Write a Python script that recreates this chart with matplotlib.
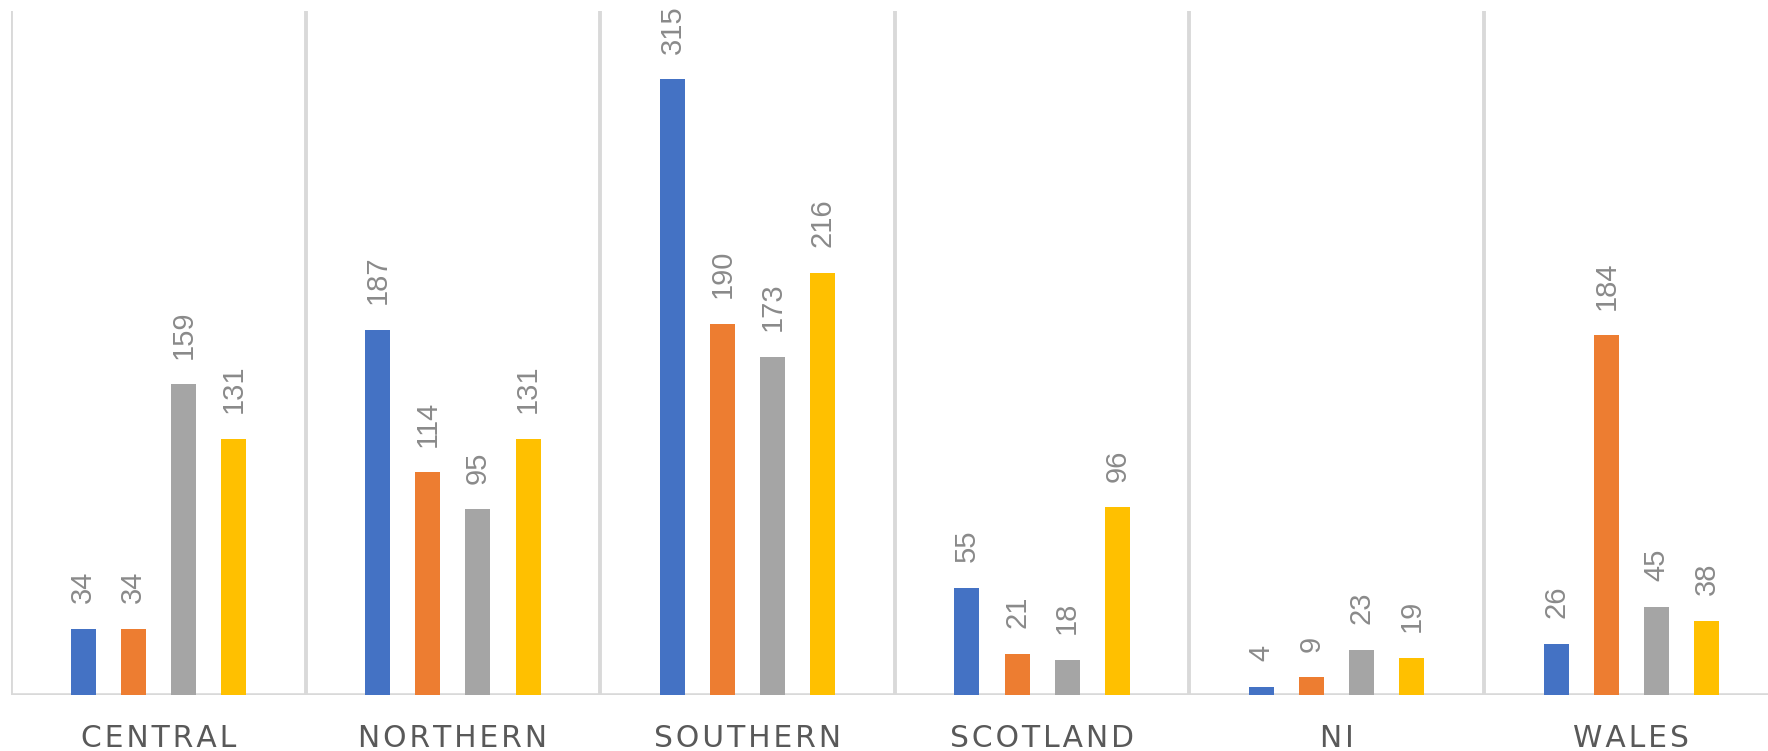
import matplotlib
matplotlib.use("Agg")
import matplotlib.pyplot as plt
import numpy as np

categories = ["CENTRAL", "NORTHERN", "SOUTHERN", "SCOTLAND", "NI", "WALES"]
series1 = [34, 187, 315, 55, 4, 26]
series2 = [34, 114, 190, 21, 9, 184]
series3 = [159, 95, 173, 18, 23, 45]
series4 = [131, 131, 216, 96, 19, 38]
series = [series1, series2, series3, series4]
colors = ["#4472C4", "#ED7D31", "#A5A5A5", "#FFC000"]

fig = plt.figure(figsize=(17.68, 7.51), dpi=100)
ax = fig.add_axes([11 / 1768, 56 / 751, 1767.6 / 1768, 684 / 751])

x = np.arange(len(categories))
bw = 0.085
step = 0.17
for i, (vals, c) in enumerate(zip(series, colors)):
    pos = x + (i - 1.5) * step
    ax.bar(pos, vals, width=bw, color=c, zorder=3)
    for p, v in zip(pos, vals):
        ax.annotate(str(v), xy=(p, v), xytext=(0, 18.5), textcoords="offset points",
                    rotation=90, ha="center", va="bottom", fontsize=21,
                    color="#8a8a8a", family=["Liberation Sans", "DejaVu Sans"])

ax.set_xlim(-0.5, len(categories) - 0.5)
ax.set_ylim(0, 350)
ax.vlines(np.arange(len(categories) + 1) - 0.5, 0, 350, color="#D9D9D9", lw=2.8, zorder=1)
ax.axhline(0, color="#D9D9D9", lw=2.6, zorder=2)

for s in ax.spines.values():
    s.set_visible(False)
ax.set_yticks([])
ax.set_xticks(x)
ax.set_xticklabels(["\u200a".join(list(c)) for c in categories], fontsize=21.4,
                   color="#595959", family="DejaVu Sans")
ax.tick_params(axis="x", length=0, pad=21)

fig.savefig("out.png", dpi=100)
